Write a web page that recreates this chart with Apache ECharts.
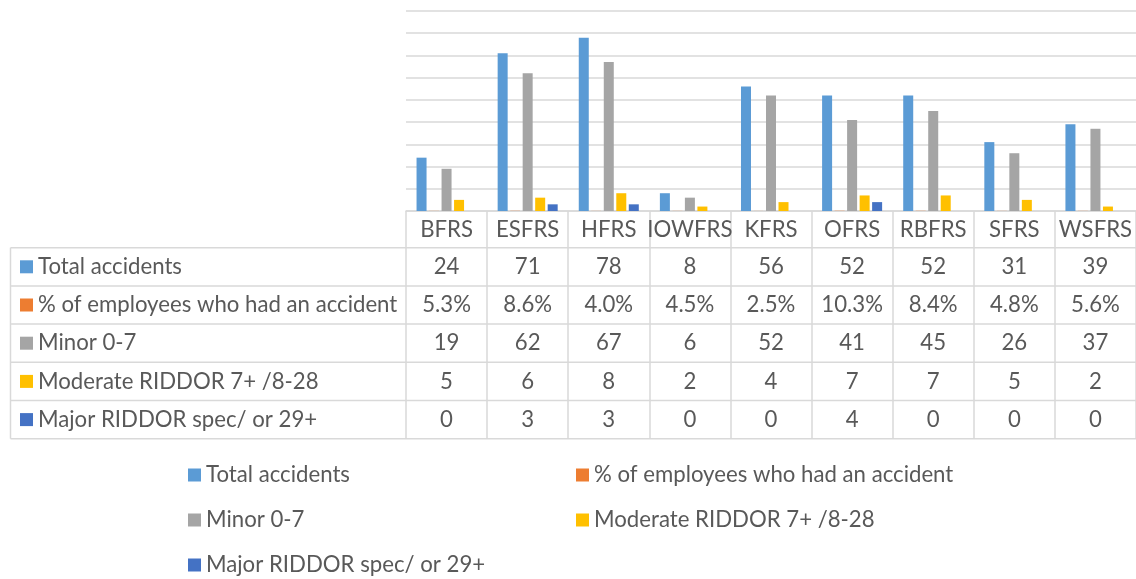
<!DOCTYPE html>
<html>
<head>
<meta charset="utf-8">
<script src="https://cdn.jsdelivr.net/npm/echarts@6/dist/echarts.min.js"></script>
<style>
html,body{margin:0;padding:0;background:#fff;}
#chart{width:1136px;height:579px;}
</style>
</head>
<body>
<div id="chart"></div>
<script>
const categories = ['BFRS','ESFRS','HFRS','IOWFRS','KFRS','OFRS','RBFRS','SFRS','WSFRS'];
const seriesNames = ['Total accidents','% of employees who had an accident','Minor 0-7','Moderate RIDDOR 7+ /8-28','Major RIDDOR spec/ or 29+'];
const totalAccidents = [24,71,78,8,56,52,52,31,39];
const pctEmployees = [0.053,0.086,0.040,0.045,0.025,0.103,0.084,0.048,0.056];
const minor = [19,62,67,6,52,41,45,26,37];
const moderate = [5,6,8,2,4,7,7,5,2];
const major = [0,3,3,0,0,4,0,0,0];
const colors = ['#5B9BD5','#ED7D31','#A5A5A5','#FFC000','#4472C4'];

const FONT = 'Lato';
const FS = 22.2;
const TXT = '#595959';
const LINE = '#d9d9d9';

const plotLeft = 406, plotTop = 11, plotH = 200, plotW = 733;
const tableTop = plotTop + plotH;
const headerH = 36.7, rowH = 38.2;
const tableLeft = 10.5;

const allData = [totalAccidents, pctEmployees, minor, moderate, major];
const fmt = [v => String(v), v => (v*100).toFixed(1) + '%', v => String(v), v => String(v), v => String(v)];

const chart = echarts.init(document.getElementById('chart'), null, {renderer:'canvas'});

const graphics = [];
for (let r = 0; r <= seriesNames.length; r++) {
  const y = tableTop + headerH + r * rowH;
  graphics.push({type:'line', shape:{x1:tableLeft, y1:y, x2:1136, y2:y}, style:{stroke:LINE, lineWidth:1.5}, silent:true});
}
graphics.push({type:'line', shape:{x1:tableLeft, y1:tableTop+headerH, x2:tableLeft, y2:tableTop+headerH+seriesNames.length*rowH}, style:{stroke:LINE, lineWidth:1.5}, silent:true});

const legendBase = {
  icon:'rect', itemWidth:13, itemHeight:13, selectedMode:false, padding:0,
  textStyle:{fontFamily:FONT, fontSize:FS, color:TXT, lineHeight:28}
};

chart.setOption({
  animation:false,
  color:colors,
  grid:{left:plotLeft, top:plotTop, width:plotW, height:plotH, containLabel:false},
  xAxis:{
    type:'category', data:categories,
    axisLine:{show:true, lineStyle:{color:LINE, width:1.5}},
    axisTick:{show:true, length:headerH + seriesNames.length*rowH, lineStyle:{color:LINE, width:1.5}},
    axisLabel:{
      interval:0, margin:0, color:TXT, fontFamily:FONT, fontSize:FS,
      formatter:(value, idx) => {
        let s = '{h|' + value + '}';
        for (let k = 0; k < allData.length; k++) s += '\n{v|' + fmt[k](allData[k][idx]) + '}';
        return s;
      },
      rich:{
        h:{lineHeight:headerH, fontFamily:FONT, fontSize:FS, color:TXT},
        v:{lineHeight:rowH, fontFamily:FONT, fontSize:FS, color:TXT}
      }
    }
  },
  yAxis:{
    type:'value', min:0, max:90, interval:10,
    axisLabel:{show:false}, axisLine:{show:false}, axisTick:{show:false},
    splitLine:{show:true, lineStyle:{color:LINE, width:1.5}}
  },
  legend:[
    Object.assign({}, legendBase, {data:seriesNames, orient:'vertical', left:20, top:tableTop+headerH+(rowH-28)/2, itemGap:rowH-28}),
    Object.assign({}, legendBase, {data:[seriesNames[0], seriesNames[2], seriesNames[4]], orient:'vertical', left:188, top:461, itemGap:17}),
    Object.assign({}, legendBase, {data:[seriesNames[1], seriesNames[3]], orient:'vertical', left:576, top:461, itemGap:17})
  ],
  series: seriesNames.map((n, i) => ({
    name:n, type:'bar', data:allData[i],
    barGap:'25%', barCategoryGap:'26%',
    itemStyle:{color:colors[i]}
  })),
  graphic:graphics
});
</script>
</body>
</html>
